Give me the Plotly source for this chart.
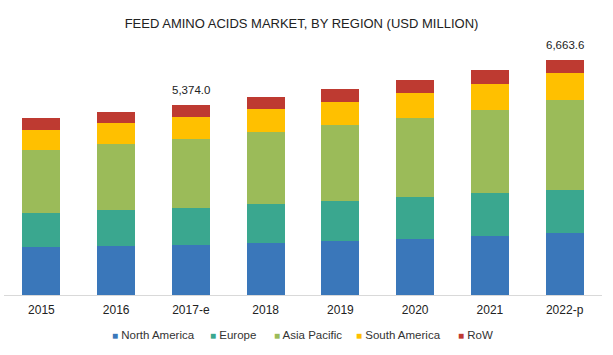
import plotly.graph_objects as go

years = ["2015", "2016", "2017-e", "2018", "2019", "2020", "2021", "2022-p"]
north_america = [1345.0, 1400.0, 1412.0, 1458.0, 1525.0, 1582.0, 1667.0, 1742.0]
europe = [988.0, 1000.0, 1062.0, 1130.0, 1130.0, 1187.0, 1215.0, 1237.0]
asia_pacific = [1771.0, 1873.0, 1949.0, 2026.0, 2147.0, 2250.0, 2362.0, 2540.0]
south_america = [565.0, 585.0, 621.0, 641.0, 667.0, 690.0, 735.0, 755.0]
row = [330.0, 319.0, 330.0, 347.0, 350.0, 367.0, 387.0, 389.6]
labelled_years = ["2017-e", "2022-p"]

series = [
    ("North America", north_america, "#3A77BA"),
    ("Europe", europe, "#3AA78F"),
    ("Asia Pacific", asia_pacific, "#9BBB59"),
    ("South America", south_america, "#FFC000"),
    ("RoW", row, "#BE3A31"),
]

FONT = "Liberation Sans, Arial, sans-serif"
W, H = 613, 355
L, R, T, B = 4, 11, 40, 60

fig = go.Figure()
for name, vals, col in series:
    fig.add_trace(go.Bar(x=years, y=vals, name=name, marker_color=col,
                         marker_line_width=0, showlegend=False))

totals = [sum(v) for v in zip(north_america, europe, asia_pacific, south_america, row)]
for yr, tot in zip(years, totals):
    if yr in labelled_years:
        fig.add_annotation(x=yr, y=tot, text=f"{tot:,.1f}", showarrow=False,
                           yanchor="bottom", yshift=7,
                           font=dict(family=FONT, size=11.5, color="#222222"))

# legend drawn as a row of text entries with coloured squares
legend_left_px = [110, 208, 272, 354, 456]
plot_w = W - L - R
for (name, _, col), px in zip(series, legend_left_px):
    fig.add_annotation(
        xref="paper", yref="paper",
        x=(px - L) / plot_w, y=(H - B - 335) / (H - T - B),
        xanchor="left", yanchor="middle", showarrow=False,
        text=f"<span style='color:{col};font-size:10px'>■</span> {name}",
        font=dict(family=FONT, size=11.5, color="#333333"),
    )

fig.update_layout(
    barmode="stack",
    bargap=0.49,
    width=W, height=H,
    margin=dict(l=L, r=R, t=T, b=B, autoexpand=False),
    paper_bgcolor="white", plot_bgcolor="white",
    title=dict(text="FEED AMINO ACIDS MARKET, BY REGION (USD MILLION)",
               xref="container", x=301.5 / W, xanchor="center",
               yref="container", y=1 - 23 / H, yanchor="middle",
               font=dict(family=FONT, size=13, color="#222222")),
    font=dict(family=FONT, size=11, color="#333333"),
    showlegend=False,
    xaxis=dict(type="category", showline=True, linecolor="#D9D9D9", linewidth=1,
               ticks="", showgrid=False, automargin=False, ticklabelstandoff=4,
               tickfont=dict(family=FONT, size=12, color="#222222")),
    yaxis=dict(range=[0, 28.3 * (H - T - B)], visible=False, showgrid=False,
               automargin=False),
)

fig.write_html("out.html", config={"displayModeBar": False},
               post_script="document.body.style.margin='0';document.body.style.overflow='hidden';")
